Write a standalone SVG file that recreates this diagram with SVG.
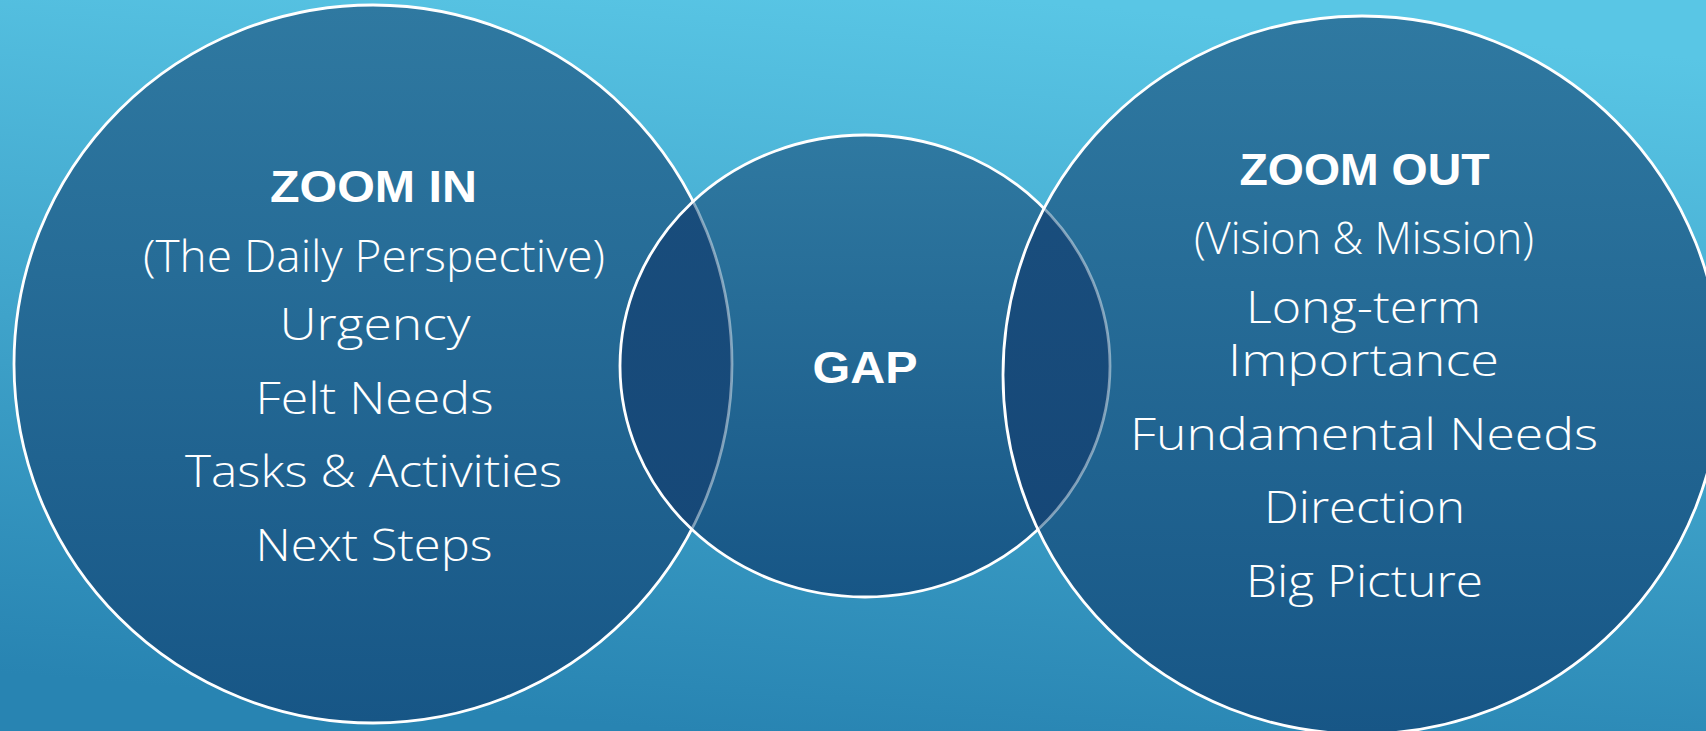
<svg xmlns="http://www.w3.org/2000/svg" width="1706" height="731" viewBox="0 0 1706 731">
  <defs>
    <linearGradient id="bg" x1="0.6" y1="0" x2="0.4" y2="1">
      <stop offset="0" stop-color="#59c6e5"/>
      <stop offset="1" stop-color="#2884b2"/>
    </linearGradient>
    <linearGradient id="disc" x1="0" y1="0" x2="0" y2="1">
      <stop offset="0" stop-color="#2f79a1"/>
      <stop offset="1" stop-color="#175686"/>
    </linearGradient>
    <linearGradient id="lens" x1="0" y1="0" x2="0" y2="1">
      <stop offset="0" stop-color="#1a4f7e"/>
      <stop offset="1" stop-color="#154676"/>
    </linearGradient>
    <clipPath id="clipMid">
      <ellipse cx="865" cy="366" rx="245" ry="231"/>
    </clipPath>
    <clipPath id="clipRight">
      <circle cx="1362" cy="375" r="359"/>
    </clipPath>
    <style>
      .ring { stroke: #ffffff; stroke-width: 2.8; }
      .fill { fill: url(#disc); }
      .overlap { fill: url(#lens); stroke: #ffffff; stroke-opacity: 0.45; stroke-width: 2.8; }
      .head { font-family: "Liberation Sans", Arial, sans-serif; font-weight: bold; font-size: 45px; fill: #ffffff; text-anchor: middle; }
      .item { font-family: "Open Sans", "Liberation Sans", Arial, sans-serif; font-weight: 300; font-size: 44px; fill: #ffffff; text-anchor: middle; }
    </style>
  </defs>

  <rect x="0" y="0" width="1706" height="731" fill="url(#bg)"/>

  <!-- Left circle -->
  <g id="zoom-in">
    <circle class="fill ring" cx="373" cy="364" r="359"/>
    <text class="head" x="373.5" y="202" textLength="207" lengthAdjust="spacingAndGlyphs">ZOOM IN</text>
    <text class="item" x="374" y="272" textLength="462" lengthAdjust="spacingAndGlyphs">(The Daily Perspective)</text>
    <text class="item" x="375" y="340" textLength="191" lengthAdjust="spacingAndGlyphs">Urgency</text>
    <text class="item" x="374.5" y="414" textLength="238" lengthAdjust="spacingAndGlyphs">Felt Needs</text>
    <text class="item" x="373.5" y="487" textLength="377" lengthAdjust="spacingAndGlyphs">Tasks &amp; Activities</text>
    <text class="item" x="374" y="561" textLength="237" lengthAdjust="spacingAndGlyphs">Next Steps</text>
  </g>

  <!-- Middle ellipse with the left overlap lens -->
  <g id="gap">
    <ellipse class="fill" cx="865" cy="366" rx="245" ry="231"/>
    <circle class="overlap" cx="373" cy="364" r="359" clip-path="url(#clipMid)"/>
    <ellipse class="ring" fill="none" cx="865" cy="366" rx="245" ry="231"/>
    <text class="head" x="865" y="383" textLength="105" lengthAdjust="spacingAndGlyphs">GAP</text>
  </g>

  <!-- Right circle with the right overlap lens -->
  <g id="zoom-out">
    <circle class="fill" cx="1362" cy="375" r="359"/>
    <ellipse class="overlap" cx="865" cy="366" rx="245" ry="231" clip-path="url(#clipRight)"/>
    <circle class="ring" fill="none" cx="1362" cy="375" r="359"/>
    <text class="head" x="1364.5" y="185" textLength="250" lengthAdjust="spacingAndGlyphs">ZOOM OUT</text>
    <text class="item" x="1364" y="254" textLength="340" lengthAdjust="spacingAndGlyphs">(Vision &amp; Mission)</text>
    <text class="item" x="1363.5" y="323" textLength="235" lengthAdjust="spacingAndGlyphs">Long-term</text>
    <text class="item" x="1363.5" y="376" textLength="271" lengthAdjust="spacingAndGlyphs">Importance</text>
    <text class="item" x="1364" y="450" textLength="468" lengthAdjust="spacingAndGlyphs">Fundamental Needs</text>
    <text class="item" x="1364.5" y="523" textLength="201" lengthAdjust="spacingAndGlyphs">Direction</text>
    <text class="item" x="1364.5" y="597" textLength="237" lengthAdjust="spacingAndGlyphs">Big Picture</text>
  </g>

  <g id="connectors"/>
</svg>
